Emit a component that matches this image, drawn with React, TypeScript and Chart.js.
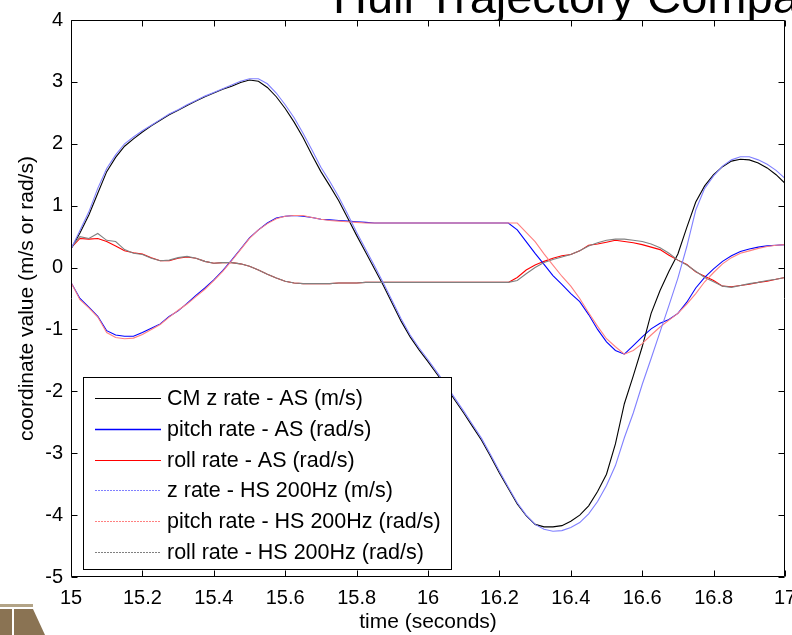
import React, { useEffect, useRef } from "react";
import { Chart, registerables } from "chart.js";

Chart.register(...registerables);

const times = [
  15.0, 15.025, 15.05, 15.075, 15.1, 15.125, 15.15, 15.175, 15.2, 15.225,
  15.25, 15.275, 15.3, 15.325, 15.35, 15.375, 15.4, 15.425, 15.45, 15.475,
  15.5, 15.525, 15.55, 15.575, 15.6, 15.625, 15.65, 15.675, 15.7, 15.725,
  15.75, 15.775, 15.8, 15.825, 15.85, 15.875, 15.9, 15.925, 15.95, 15.975,
  16.0, 16.025, 16.05, 16.075, 16.1, 16.125, 16.15, 16.175, 16.2, 16.225,
  16.25, 16.275, 16.3, 16.325, 16.35, 16.375, 16.4, 16.425, 16.45, 16.475,
  16.5, 16.525, 16.55, 16.575, 16.6, 16.625, 16.65, 16.675, 16.7, 16.725,
  16.75, 16.775, 16.8, 16.825, 16.85, 16.875, 16.9, 16.925, 16.95, 16.975,
  17.0,
];

const zRateAS = [
  0.30, 0.56, 0.85, 1.20, 1.55, 1.78, 1.96, 2.08, 2.19, 2.29,
  2.38, 2.47, 2.54, 2.62, 2.69, 2.76, 2.82, 2.88, 2.93, 2.99,
  3.03, 3.01, 2.91, 2.76, 2.57, 2.35, 2.10, 1.82, 1.55, 1.32,
  1.08, 0.80, 0.52, 0.25, -0.02, -0.29, -0.58, -0.87, -1.12, -1.33,
  -1.52, -1.72, -1.92, -2.14, -2.35, -2.57, -2.79, -3.05, -3.32, -3.57,
  -3.82, -4.01, -4.15, -4.19, -4.19, -4.17, -4.10, -4.00, -3.85, -3.62,
  -3.34, -2.85, -2.20, -1.75, -1.28, -0.74, -0.37, -0.06, 0.22, 0.65,
  1.06, 1.32, 1.50, 1.63, 1.72, 1.75, 1.74, 1.69, 1.61, 1.50,
  1.36,
];

const pitchAS = [
  -0.24, -0.50, -0.64, -0.79, -1.02, -1.09, -1.11, -1.11, -1.05, -0.98,
  -0.91, -0.79, -0.70, -0.58, -0.45, -0.33, -0.20, -0.05, 0.12, 0.30,
  0.48, 0.61, 0.72, 0.80, 0.83, 0.84, 0.83, 0.81, 0.78, 0.77,
  0.76, 0.75, 0.74, 0.73, 0.72, 0.72, 0.72, 0.72, 0.72, 0.72,
  0.72, 0.72, 0.72, 0.72, 0.72, 0.72, 0.72, 0.72, 0.72, 0.72,
  0.61, 0.42, 0.23, 0.05, -0.13, -0.27, -0.42, -0.55, -0.76, -1.00,
  -1.20, -1.34, -1.40, -1.26, -1.12, -0.99, -0.90, -0.84, -0.74, -0.56,
  -0.33, -0.16, -0.02, 0.10, 0.19, 0.26, 0.30, 0.33, 0.35, 0.36,
  0.37,
];

const rollAS = [
  0.32, 0.47, 0.46, 0.47, 0.42, 0.35, 0.27, 0.24, 0.22, 0.16,
  0.11, 0.11, 0.15, 0.17, 0.15, 0.10, 0.07, 0.08, 0.08, 0.06,
  0.02, -0.04, -0.11, -0.17, -0.22, -0.25, -0.26, -0.26, -0.26, -0.26,
  -0.25, -0.25, -0.25, -0.24, -0.24, -0.24, -0.24, -0.24, -0.24, -0.24,
  -0.24, -0.24, -0.24, -0.24, -0.24, -0.24, -0.24, -0.24, -0.24, -0.24,
  -0.16, -0.04, 0.04, 0.10, 0.15, 0.19, 0.21, 0.27, 0.36, 0.38,
  0.41, 0.44, 0.42, 0.40, 0.37, 0.33, 0.29, 0.20, 0.12, 0.05,
  -0.07, -0.14, -0.21, -0.30, -0.31, -0.29, -0.27, -0.24, -0.22, -0.19,
  -0.16,
];

const zRateHS = [
  0.30, 0.60, 0.90, 1.28, 1.60, 1.82, 2.00, 2.11, 2.21, 2.30,
  2.39, 2.48, 2.55, 2.63, 2.70, 2.77, 2.83, 2.89, 2.95, 3.01,
  3.05, 3.05, 2.97, 2.82, 2.63, 2.42, 2.17, 1.90, 1.62, 1.39,
  1.14, 0.86, 0.57, 0.30, 0.03, -0.25, -0.54, -0.83, -1.09, -1.30,
  -1.49, -1.69, -1.89, -2.11, -2.32, -2.54, -2.76, -3.02, -3.29, -3.55,
  -3.80, -4.00, -4.15, -4.23, -4.26, -4.25, -4.20, -4.12, -3.98, -3.78,
  -3.52, -3.20, -2.75, -2.35, -1.89, -1.47, -1.04, -0.61, -0.17, 0.34,
  0.93, 1.28, 1.48, 1.64, 1.74, 1.79, 1.79, 1.74, 1.67, 1.57,
  1.44,
];

const pitchHS = [
  -0.24, -0.52, -0.65, -0.80, -1.05, -1.13, -1.15, -1.14, -1.08, -1.00,
  -0.92, -0.80, -0.69, -0.59, -0.47, -0.35, -0.21, -0.06, 0.11, 0.29,
  0.47, 0.61, 0.71, 0.79, 0.83, 0.84, 0.84, 0.81, 0.78, 0.76,
  0.75, 0.74, 0.73, 0.72, 0.72, 0.72, 0.72, 0.72, 0.72, 0.72,
  0.72, 0.72, 0.72, 0.72, 0.72, 0.72, 0.72, 0.72, 0.72, 0.72,
  0.72, 0.57, 0.42, 0.22, 0.04, -0.14, -0.30, -0.50, -0.73, -0.95,
  -1.15, -1.28, -1.40, -1.34, -1.23, -1.09, -0.96, -0.85, -0.74, -0.59,
  -0.42, -0.23, -0.08, 0.06, 0.16, 0.23, 0.27, 0.31, 0.34, 0.36,
  0.37,
];

const rollHS = [
  0.32, 0.50, 0.47, 0.55, 0.44, 0.42, 0.29, 0.23, 0.21, 0.15,
  0.11, 0.12, 0.16, 0.18, 0.15, 0.10, 0.07, 0.08, 0.08, 0.06,
  0.02, -0.04, -0.11, -0.17, -0.22, -0.25, -0.26, -0.26, -0.26, -0.26,
  -0.25, -0.25, -0.25, -0.24, -0.24, -0.24, -0.24, -0.24, -0.24, -0.24,
  -0.24, -0.24, -0.24, -0.24, -0.24, -0.24, -0.24, -0.24, -0.24, -0.24,
  -0.21, -0.10, 0.00, 0.08, 0.13, 0.17, 0.21, 0.27, 0.35, 0.40,
  0.44, 0.46, 0.46, 0.44, 0.42, 0.38, 0.32, 0.23, 0.12, 0.04,
  -0.06, -0.16, -0.23, -0.30, -0.32, -0.29, -0.26, -0.24, -0.21, -0.19,
  -0.16,
];

const seriesLabels = [
  "CM z rate - AS (m/s)",
  "pitch rate - AS (rad/s)",
  "roll rate - AS (rad/s)",
  "z rate - HS 200Hz (m/s)",
  "pitch rate - HS 200Hz (rad/s)",
  "roll rate - HS 200Hz (rad/s)",
];
const seriesColors = ["#000000", "#0000ff", "#ff0000", "#8080ff", "#ff8080", "#808080"];

const xTickValues = [15, 15.2, 15.4, 15.6, 15.8, 16, 16.2, 16.4, 16.6, 16.8, 17];
const xTickLabels = ["15", "15.2", "15.4", "15.6", "15.8", "16", "16.2", "16.4", "16.6", "16.8", "17"];
const yTickValues = [-5, -4, -3, -2, -1, 0, 1, 2, 3, 4];
const yTickLabels = ["-5", "-4", "-3", "-2", "-1", "0", "1", "2", "3", "4"];

const titleText = "Hull Trajectory Comparison";
const xTitle = "time (seconds)";
const yTitle = "coordinate value (m/s or rad/s)";

const FONT = '"Liberation Sans", Arial, Helvetica, sans-serif';

export default function App() {
  const ref = useRef<HTMLCanvasElement | null>(null);

  useEffect(() => {
    const canvas = ref.current;
    if (!canvas) return;
    const series = [zRateAS, pitchAS, rollAS, zRateHS, pitchHS, rollHS];
    const datasets = series.map((vals, i) => ({
      label: seriesLabels[i],
      data: vals.map((v, j) => ({ x: times[j], y: v })),
      borderColor: seriesColors[i],
      backgroundColor: seriesColors[i],
      borderWidth: 1.1,
      pointRadius: 0,
      fill: false,
      tension: 0,
      order: i < 3 ? 1 : 0,
    }));

    const overlay = {
      id: "overlay",
      beforeDatasetsDraw(chart: any) {
        const ctx = chart.ctx;
        const { top } = chart.chartArea;
        ctx.save();
        ctx.beginPath();
        ctx.rect(0, 0, chart.width, top + 1);
        ctx.clip();
        ctx.fillStyle = "#000";
        ctx.font = `47px ${FONT}`;
        ctx.textAlign = "left";
        ctx.textBaseline = "alphabetic";
        ctx.fillText(titleText, 333, 13);
        ctx.restore();
      },
      afterDatasetsDraw(chart: any) {
        const ctx = chart.ctx;
        const { left, right, top, bottom } = chart.chartArea;
        const xs = chart.scales.x;
        const ys = chart.scales.y;
        ctx.save();
        ctx.strokeStyle = "#000";
        ctx.lineWidth = 1;
        const L = Math.round(left) + 0.5;
        const R = Math.round(right) - 0.5;
        const T = Math.round(top) + 0.5;
        const B = Math.round(bottom) - 0.5;
        ctx.beginPath();
        ctx.rect(L, T, R - L, B - T);
        ctx.stroke();
        const tick = 6;
        ctx.beginPath();
        xTickValues.forEach((v) => {
          const px = Math.round(xs.getPixelForValue(v)) + 0.5;
          ctx.moveTo(px, T);
          ctx.lineTo(px, T + tick);
          ctx.moveTo(px, B);
          ctx.lineTo(px, B - tick);
        });
        yTickValues.forEach((v) => {
          const py = Math.round(ys.getPixelForValue(v)) + 0.5;
          ctx.moveTo(L, py);
          ctx.lineTo(L + tick, py);
          ctx.moveTo(R, py);
          ctx.lineTo(R - tick, py);
        });
        ctx.stroke();

        // legend
        const lx = 83, ly = 377, lw = 368, lh = 192;
        ctx.fillStyle = "#fff";
        ctx.fillRect(lx, ly, lw, lh);
        ctx.strokeStyle = "#000";
        ctx.strokeRect(lx + 0.5, ly + 0.5, lw, lh);
        ctx.font = `21.5px ${FONT}`;
        ctx.textAlign = "left";
        ctx.textBaseline = "middle";
        seriesLabels.forEach((label, i) => {
          const y = Math.round(398 + i * 30.8) + 0.5;
          ctx.strokeStyle = seriesColors[i];
          ctx.lineWidth = i === 1 ? 1.6 : 1;
          ctx.setLineDash(i >= 3 ? [2, 1] : []);
          ctx.beginPath();
          ctx.moveTo(95, y);
          ctx.lineTo(161, y);
          ctx.stroke();
          ctx.setLineDash([]);
          ctx.fillStyle = "#000";
          ctx.fillText(label, 167, y + 1);
        });

        // logo (bottom-left)
        ctx.fillStyle = "#b3a487";
        ctx.fillRect(0, 604, 33, 3);
        ctx.fillStyle = "#8a7353";
        ctx.fillRect(0, 609, 12, 26);
        ctx.beginPath();
        ctx.moveTo(14, 609);
        ctx.lineTo(33, 609);
        ctx.lineTo(45, 635);
        ctx.lineTo(14, 635);
        ctx.closePath();
        ctx.fill();
        ctx.restore();
      },
    };

    const chart = new Chart(canvas, {
      type: "line",
      data: { datasets },
      options: {
        animation: false,
        responsive: false,
        devicePixelRatio: 1,
        events: [],
        layout: { padding: { top: 15, right: 35, left: 0, bottom: 0 } },
        plugins: { legend: { display: false }, tooltip: { enabled: false }, title: { display: false } },
        scales: {
          x: {
            type: "linear",
            min: 15,
            max: 17,
            afterBuildTicks: (s: any) => {
              s.ticks = xTickValues.map((v) => ({ value: v }));
            },
            afterFit: (s: any) => {
              s.height = 58;
            },
            grid: { display: false, drawTicks: false },
            border: { display: false },
            ticks: {
              autoSkip: false,
              maxRotation: 0,
              padding: 9,
              color: "#000",
              font: { family: FONT, size: 20 },
              callback: (_v: any, i: number) => xTickLabels[i],
            },
            title: {
              display: true,
              text: xTitle,
              color: "#000",
              font: { family: FONT, size: 21 },
              padding: { top: 0, bottom: 0 },
            },
          },
          y: {
            type: "linear",
            min: -5,
            max: 4,
            afterBuildTicks: (s: any) => {
              s.ticks = yTickValues.map((v) => ({ value: v }));
            },
            afterFit: (s: any) => {
              s.width = 71;
            },
            grid: { display: false, drawTicks: false },
            border: { display: false },
            ticks: {
              autoSkip: false,
              padding: 8,
              color: "#000",
              font: { family: FONT, size: 20 },
              callback: (_v: any, i: number) => yTickLabels[i],
            },
            title: {
              display: true,
              text: yTitle,
              color: "#000",
              font: { family: FONT, size: 21 },
              padding: { top: 15, bottom: 0 },
            },
          },
        },
      },
      plugins: [overlay],
    } as any);

    return () => chart.destroy();
  }, []);

  return (
    <div
      style={{
        position: "fixed",
        left: 0,
        top: 0,
        width: 792,
        height: 635,
        overflow: "hidden",
        background: "#fff",
      }}
    >
      <canvas ref={ref} width={820} height={635} style={{ display: "block" }} />
    </div>
  );
}
